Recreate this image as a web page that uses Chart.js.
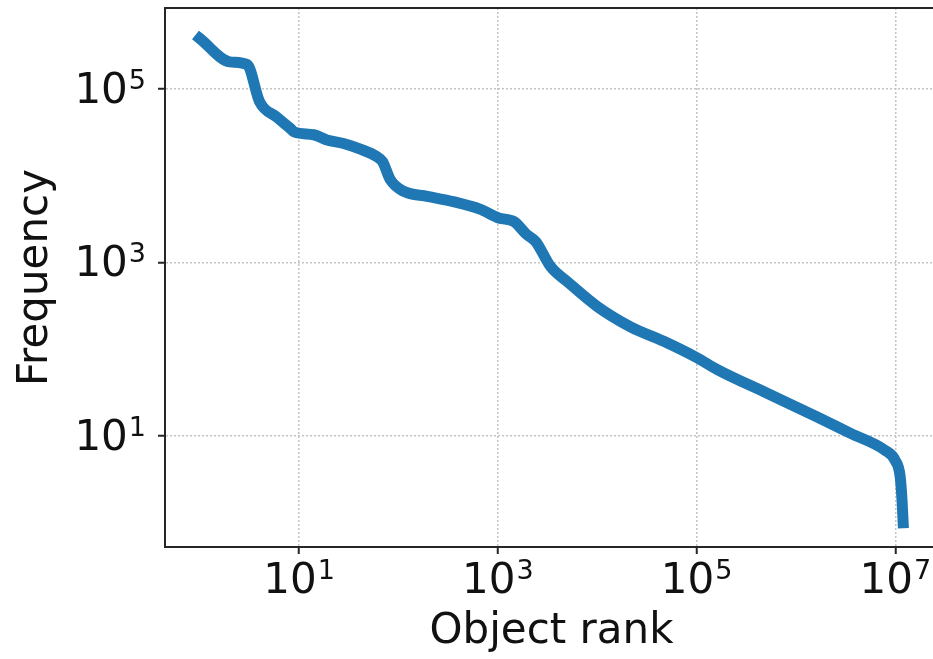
<!DOCTYPE html>
<html>
<head>
<meta charset="utf-8">
<title>Object rank vs Frequency</title>
<script src="https://cdn.jsdelivr.net/npm/chart.js@4/dist/chart.umd.min.js"></script>
<style>
  html, body { margin: 0; padding: 0; background: #fff; overflow: hidden; }
  #wrap { width: 933px; height: 659px; overflow: hidden; }
</style>
</head>
<body>
<div id="wrap">
  <canvas id="rankChart" width="945" height="659" style="width:945px;height:659px"></canvas>
</div>
<script>
// ===== DATA =====
const ranks = [1, 2, 3, 4, 6, 8, 9, 14, 19, 28, 42, 60, 69, 83, 112, 195, 355, 660,
  1020, 1450, 1950, 2400, 3400, 5000, 10000, 21400, 46800, 102000, 162000, 513000,
  1620000, 3550000, 7760000, 10000000, 11200000, 11700000, 12000000];
const frequencies = [380000, 204000, 190000, 70800, 46800, 35500, 31600, 29500, 25700,
  23400, 20000, 16600, 14500, 8900, 6600, 5750, 5000, 4100, 3240, 2950, 2090, 1740,
  890, 600, 310, 182, 123, 79, 58, 31, 16.6, 10.7, 6.9, 5.2, 3.4, 1.8, 1];

// label tick: basis 10 + pangkat
const xTickValues = [10, 1000, 100000, 10000000];
const xTickExps = ['1', '3', '5', '7'];
const yTickValues = [10, 1000, 100000];
const yTickExps = ['1', '3', '5'];

const axisColor = '#262626';
const gridColor = '#c4c4c4';
const textColor = '#111';
const fontFamily = "'DejaVu Sans', sans-serif";
const baseSize = 42, expSize = 27;

// ===== KOTAK SUMBU (atas & kanan) + LABEL TICK =====
function drawPower(ctx, exp, x, baseline, align) {
  ctx.font = baseSize + 'px ' + fontFamily;
  const wBase = ctx.measureText('10').width;
  ctx.font = expSize + 'px ' + fontFamily;
  const wExp = ctx.measureText(exp).width;
  const total = wBase + 1 + wExp;
  let left = align === 'right' ? x - total : x - total / 2;
  ctx.textAlign = 'left';
  ctx.textBaseline = 'alphabetic';
  ctx.font = baseSize + 'px ' + fontFamily;
  ctx.fillText('10', left, baseline);
  ctx.font = expSize + 'px ' + fontFamily;
  ctx.fillText(exp, left + wBase + 1, baseline - 14);
}

const axisPlugin = {
  id: 'axisExtras',
  afterDraw(chart) {
    const a = chart.chartArea;
    const ctx = chart.ctx;
    ctx.save();
    ctx.strokeStyle = axisColor;
    ctx.lineWidth = 2;
    ctx.beginPath();
    ctx.moveTo(a.left, a.top);
    ctx.lineTo(a.right, a.top);
    ctx.lineTo(a.right, a.bottom);
    ctx.stroke();

    ctx.fillStyle = textColor;
    const xs = chart.scales.x, ys = chart.scales.y;
    xTickValues.forEach((v, i) => {
      drawPower(ctx, xTickExps[i], xs.getPixelForValue(v), a.bottom + 46, 'center');
    });
    yTickValues.forEach((v, i) => {
      drawPower(ctx, yTickExps[i], a.left - 19, ys.getPixelForValue(v) + 14, 'right');
    });
    ctx.restore();
  }
};

// ===== CHART =====
const points = ranks.map((r, i) => ({x: r, y: frequencies[i]}));

new Chart(document.getElementById('rankChart'), {
  type: 'line',
  data: {
    datasets: [{
      data: points,
      borderColor: '#1f77b4',
      borderWidth: 11,
      pointRadius: 0,
      cubicInterpolationMode: 'monotone',
      borderJoinStyle: 'round',
      borderCapStyle: 'square',
      fill: false
    }]
  },
  options: {
    responsive: false,
    animation: false,
    devicePixelRatio: 1,
    layout: {padding: {top: 8, right: 7, left: 0, bottom: 0}},
    plugins: {legend: {display: false}, tooltip: {enabled: false}},
    scales: {
      x: {
        type: 'logarithmic',
        min: Math.pow(10, -0.35),
        max: Math.pow(10, 7.43),
        afterBuildTicks: s => { s.ticks = xTickValues.map(v => ({value: v})); },
        afterFit: s => { s.height = 112; s.paddingLeft = 0; s.paddingRight = 0; },
        ticks: {display: false},
        grid: {color: gridColor, lineWidth: 1.5, tickLength: 7, tickColor: axisColor, tickWidth: 2, tickBorderDash: []},
        border: {display: true, color: axisColor, width: 2, dash: [2, 2]},
        title: {display: true, text: 'Object rank', color: textColor, padding: 2,
          font: {family: fontFamily, size: 42, weight: 'normal'}}
      },
      y: {
        type: 'logarithmic',
        min: Math.pow(10, -0.28),
        max: Math.pow(10, 5.93),
        afterBuildTicks: s => { s.ticks = yTickValues.map(v => ({value: v})); },
        afterFit: s => { s.width = 165; s.paddingTop = 0; s.paddingBottom = 0; },
        ticks: {display: false},
        grid: {color: gridColor, lineWidth: 1.5, tickLength: 7, tickColor: axisColor, tickWidth: 2, tickBorderDash: []},
        border: {display: true, color: axisColor, width: 2, dash: [2, 2]},
        title: {display: true, text: 'Frequency', color: textColor, padding: 11,
          font: {family: fontFamily, size: 42, weight: 'normal'}}
      }
    }
  },
  plugins: [axisPlugin]
});
</script>
</body>
</html>
